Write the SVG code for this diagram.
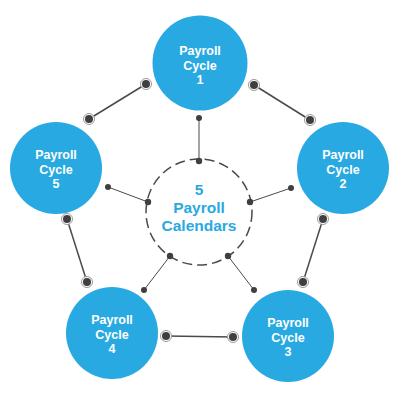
<svg xmlns="http://www.w3.org/2000/svg" width="400" height="400" viewBox="0 0 400 400">
<style>
.node{fill:#29a9e1}
.lbl{font-family:"Liberation Sans",Arial,sans-serif;font-weight:bold;font-size:12.5px;fill:#ffffff;text-anchor:middle}
.clbl{font-family:"Liberation Sans",Arial,sans-serif;font-weight:bold;font-size:15.5px;fill:#29a9e1;text-anchor:middle}
.ring{stroke:#4a4a4a;stroke-width:1.5;fill:none}
.spoke{stroke:#4a4a4a;stroke-width:1;fill:none}
.halo{fill:#ffffff;stroke:#9a9a9a;stroke-width:1}
.dot{fill:#3f3f3f}
</style>
<rect width="400" height="400" fill="#ffffff"/>
<g id="connectors">
  <line class="ring" x1="146" y1="84" x2="89" y2="119"/>
  <line class="ring" x1="254" y1="85" x2="310" y2="120"/>
  <line class="ring" x1="323" y1="219" x2="303" y2="282"/>
  <line class="ring" x1="233" y1="337" x2="166" y2="336"/>
  <line class="ring" x1="67" y1="219" x2="87" y2="282"/>
  <line class="spoke" x1="199" y1="118" x2="199" y2="161"/>
  <line class="spoke" x1="108" y1="187" x2="148" y2="202"/>
  <line class="spoke" x1="291" y1="188" x2="250" y2="202"/>
  <line class="spoke" x1="144" y1="290" x2="170" y2="256"/>
  <line class="spoke" x1="254" y1="290" x2="228" y2="256"/>
  <g>
    <circle class="halo" cx="146" cy="84" r="5.5"/><circle class="dot" cx="146" cy="84" r="4"/>
    <circle class="halo" cx="89" cy="119" r="5.5"/><circle class="dot" cx="89" cy="119" r="4"/>
    <circle class="halo" cx="254" cy="85" r="5.5"/><circle class="dot" cx="254" cy="85" r="4"/>
    <circle class="halo" cx="310" cy="120" r="5.5"/><circle class="dot" cx="310" cy="120" r="4"/>
    <circle class="halo" cx="323" cy="219" r="5.5"/><circle class="dot" cx="323" cy="219" r="4"/>
    <circle class="halo" cx="303" cy="282" r="5.5"/><circle class="dot" cx="303" cy="282" r="4"/>
    <circle class="halo" cx="233" cy="337" r="5.5"/><circle class="dot" cx="233" cy="337" r="4"/>
    <circle class="halo" cx="166" cy="336" r="5.5"/><circle class="dot" cx="166" cy="336" r="4"/>
    <circle class="halo" cx="67" cy="219" r="5.5"/><circle class="dot" cx="67" cy="219" r="4"/>
    <circle class="halo" cx="87" cy="282" r="5.5"/><circle class="dot" cx="87" cy="282" r="4"/>
  </g>
  <g>
    <circle class="dot" cx="199" cy="118" r="3"/>
    <circle class="dot" cx="108" cy="187" r="3"/>
    <circle class="dot" cx="291" cy="188" r="3"/>
    <circle class="dot" cx="144" cy="290" r="3"/>
    <circle class="dot" cx="254" cy="290" r="3"/>
  </g>
</g>
<g id="center">
  <circle cx="199" cy="212" r="53" fill="#ffffff" stroke="#4a4a4a" stroke-width="1.5" stroke-dasharray="10,5"/>
  <circle class="dot" cx="199" cy="161" r="3.2"/>
  <circle class="dot" cx="148" cy="202" r="3.2"/>
  <circle class="dot" cx="250" cy="202" r="3.2"/>
  <circle class="dot" cx="170" cy="256" r="3.2"/>
  <circle class="dot" cx="228" cy="256" r="3.2"/>
  <text class="clbl" x="199" y="195">5</text>
  <text class="clbl" x="199" y="213">Payroll</text>
  <text class="clbl" x="199" y="231">Calendars</text>
</g>
<g id="node1">
  <circle class="node" cx="200" cy="63" r="47.5"/>
  <text class="lbl" x="200" y="55">Payroll</text>
  <text class="lbl" x="200" y="69.5">Cycle</text>
  <text class="lbl" x="200" y="84">1</text>
</g>
<g id="node2">
  <circle class="node" cx="343" cy="168" r="46"/>
  <text class="lbl" x="343" y="159">Payroll</text>
  <text class="lbl" x="343" y="173.5">Cycle</text>
  <text class="lbl" x="343" y="188">2</text>
</g>
<g id="node3">
  <circle class="node" cx="288" cy="336" r="46"/>
  <text class="lbl" x="288" y="327">Payroll</text>
  <text class="lbl" x="288" y="341.5">Cycle</text>
  <text class="lbl" x="288" y="356">3</text>
</g>
<g id="node4">
  <circle class="node" cx="112" cy="333" r="46"/>
  <text class="lbl" x="112" y="324">Payroll</text>
  <text class="lbl" x="112" y="338.5">Cycle</text>
  <text class="lbl" x="112" y="353">4</text>
</g>
<g id="node5">
  <circle class="node" cx="56" cy="168" r="46"/>
  <text class="lbl" x="56" y="159">Payroll</text>
  <text class="lbl" x="56" y="173.5">Cycle</text>
  <text class="lbl" x="56" y="188">5</text>
</g>
</svg>
